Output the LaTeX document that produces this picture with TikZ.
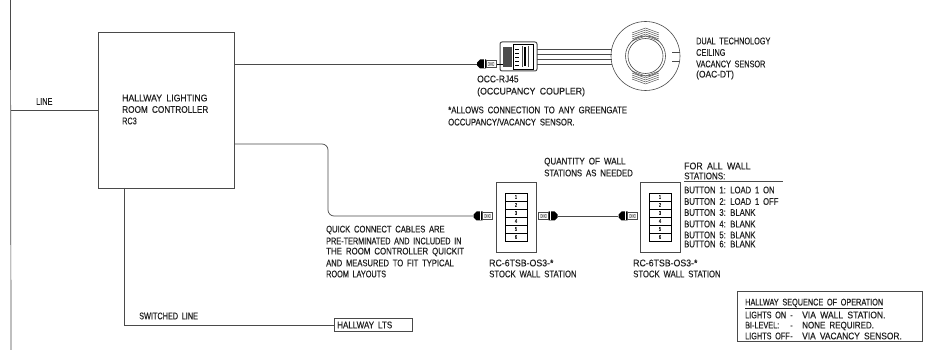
\documentclass[tikz,border=0pt]{standalone}
\usepackage{fontspec}
\setmainfont[FakeStretch=0.76,WordSpace=1.8,FakeBold=0.25]{Liberation Sans}
\definecolor{ink}{HTML}{4A4A4A}
\definecolor{txt}{HTML}{202020}
\newcommand{\sx}[2]{\scalebox{#1}[1]{#2}}
\tikzset{
  wire/.style={draw=ink,line width=0.7pt},
  thinwire/.style={draw=ink,line width=0.5pt},
  box/.style={draw=ink,line width=0.8pt,rectangle,inner sep=0pt},
  lab/.style={anchor=west,inner sep=0pt,text=txt,font=\fontsize{9.6}{10}\selectfont},
  cell/.style={draw=black,line width=0.8pt,rectangle,inner sep=0pt,minimum width=22pt,minimum height=8pt,text=txt,font=\fontsize{5.5}{5.5}\selectfont},
  plugbody/.style={rectangle,inner sep=0pt,minimum width=20pt,minimum height=10pt}
}
% \plugx{name}{x-centre}{y}{direction: 1 = dark end on the left, -1 = on the right}
\newcommand{\plugx}[4]{%
  \node[plugbody] (#1) at (#2,#3) {};
  \begin{scope}[shift={(#2,#3)},xscale=#4]
    \fill[black] (-10,-1.5) -- (-7,-4.5) -- (-1,-4.5) -- (-1,4.5) -- (-7,4.5) -- (-10,1.5) -- cycle;
    \fill[white] (-3.5,-4.5) rectangle (-2.4,4.5);
    \draw[ink,line width=0.6pt] (-1,-3.5) rectangle (9,3.5);
    \draw[ink,line width=0.4pt] (1,-1.5) rectangle (7,1.5) (1,-1.5) -- (7,1.5) (1,1.5) -- (7,-1.5);
  \end{scope}}
% \stationx{prefix}{left}: wall station plate with six numbered buttons
\newcommand{\stationx}[2]{%
  \node[box,minimum width=40pt,minimum height=70pt] (#1) at (#2+20,217) {};
  \foreach \n in {1,...,6} {
    \node[cell] (#1b\n) at (#2+20,{193+8*(\n-0.5)}) {\n};
  }}
\begin{document}
\begin{tikzpicture}[x=1pt,y=-1pt]
\useasboundingbox (0,0) rectangle (930,350);
\fill[white] (0,0) rectangle (930,350);

% main controller and bus
\coordinate (bustop) at (10.5,0);
\coordinate (busbot) at (11,350);
\draw[wire] (bustop) -- (busbot);
\node[box,minimum width=136pt,minimum height=156pt] (rc) at (166,110) {};
\draw[thinwire] (rc.west) -- (rc.west -| bustop);
\node[lab] (linelab) at (36,101.5) {LINE};
\node[lab] (rc1) at (122,98) {\sx{1.19}{HALLWAY LIGHTING}};
\node[lab] (rc2) at (122,109.5) {\sx{1.13}{ROOM CONTROLLER}};
\node[lab] (rc3) at (122,121) {RC3};

% hallway lights
\node[box,minimum width=78pt,minimum height=13pt] (lts) at (373,325) {};
\node[lab] (ltslab) at (337,325) {\sx{1.1}{HALLWAY LTS}};
\coordinate (swdrop) at (124,188);
\draw[wire] (swdrop) |- (lts.west);
\node[lab] (swlab) at (139,316) {SWITCHED LINE};

% occupancy coupler
\plugx{pa}{487}{64}{1}
\draw[wire] (rc.east |- pa.west) -- (pa.west);
\draw[ink,line width=1pt,rounded corners=2pt] (500,42) rectangle (537,71);
\node[rectangle,minimum width=37pt,minimum height=29pt,inner sep=0pt] (coupler) at (518.5,56.5) {};
\draw[black,line width=0.8pt] (513,44) rectangle (533,69);
\fill[black!70] (503,47) rectangle (512,67);
\foreach \yy in {49,53,57,61,65} \draw[black,line width=0.9pt] (515,\yy) -- (519,\yy);
\draw[black,line width=1.4pt] (525,47) -- (525,66);
\draw[ink,line width=0.5pt] (522,46) -- (522,67) (528,46) -- (528,67);
\draw[black,line width=0.9pt] (497,64) -- (503,64);

% sensor
\node[circle,draw=ink,line width=0.6pt,minimum size=69pt,inner sep=0pt] (sensor) at (645.5,56) {};
\draw[ink,line width=0.6pt] (sensor.center) circle (20) circle (17.5);
\foreach \yy in {49,54,59,64} {
  \draw[wire] (537,\yy) -- (612,\yy);
}
\foreach \dy in {0,2,4,6,8} {
  \draw[ink,line width=0.45pt] (632,33+\dy) -- (645.5,28+\dy) -- (659,33+\dy);
  \draw[ink,line width=0.45pt] (632,79-\dy) -- (645.5,84-\dy) -- (659,79-\dy);
}
\draw[ink,line width=0.5pt] (672,52) -- (680,52) (672,61) -- (680,61);
\node[lab] (s1) at (696,41) {DUAL TECHNOLOGY};
\node[lab] (s2) at (696,52.5) {CEILING};
\node[lab] (s3) at (696,64) {VACANCY SENSOR};
\node[lab] (s4) at (696,75) {\sx{1.15}{(OAC-DT)}};
\node[lab] (c1) at (477,79) {\sx{1.16}{OCC-RJ45}};
\node[lab] (c2) at (477,92) {\sx{1.2}{(OCCUPANCY COUPLER)}};
\node[lab] (c3) at (448,110) {\sx{1.07}{*ALLOWS CONNECTION TO ANY GREENGATE}};
\node[lab] (c4) at (448,122) {\sx{1.06}{OCCUPANCY/VACANCY SENSOR.}};

% wall stations
\stationx{st1}{496}
\stationx{st2}{640}
\plugx{pb}{483.5}{216}{1}
\plugx{pc}{547.5}{216}{-1}
\plugx{pd}{628.5}{216}{1}
\coordinate (bendtop) at (328,144);
\coordinate (bendbot) at (328,216);
\draw[wire,rounded corners=6pt] (rc.east |- bendtop) -- (bendtop) -- (bendbot) -- (pb.west);
\draw[wire] (pc.east) -- (pd.west);

\node[lab] (q1) at (326,230) {\sx{1.04}{QUICK CONNECT CABLES ARE}};
\node[lab] (q2) at (326,241) {PRE-TERMINATED AND INCLUDED IN};
\node[lab] (q3) at (326,252) {\sx{1.08}{THE ROOM CONTROLLER QUICKIT}};
\node[lab] (q4) at (326,263) {\sx{1.04}{AND MEASURED TO FIT TYPICAL}};
\node[lab] (q5) at (326,274) {ROOM LAYOUTS};
\node[lab] (m1) at (489,263) {\sx{1.2}{RC-6TSB-OS3-*}};
\node[lab] (m2) at (489,274) {\sx{1.06}{STOCK WALL STATION}};
\node[lab] (n1) at (633,263) {\sx{1.2}{RC-6TSB-OS3-*}};
\node[lab] (n2) at (633,274) {\sx{1.06}{STOCK WALL STATION}};
\node[lab] (w1) at (544,162) {\sx{1.1}{QUANTITY OF WALL}};
\node[lab] (w2) at (544,173) {\sx{1.07}{STATIONS AS NEEDED}};

\node[lab] (f1) at (684,166) {\sx{1.2}{FOR ALL WALL}};
\node[lab] (f2) at (684,176) {\sx{1.1}{STATIONS:}};
\coordinate (ulstart) at (684,181);
\coordinate (ulend) at (783,181);
\draw[thinwire] (ulstart) -- (ulend);
\node[lab] (b1) at (684,190) {\sx{1.05}{BUTTON 1: LOAD 1 ON}};
\node[lab] (b2) at (684,201.5) {\sx{1.05}{BUTTON 2: LOAD 1 OFF}};
\node[lab] (b3) at (684,212.5) {\sx{1.05}{BUTTON 3: BLANK}};
\node[lab] (b4) at (684,224) {\sx{1.05}{BUTTON 4: BLANK}};
\node[lab] (b5) at (684,235) {\sx{1.05}{BUTTON 5: BLANK}};
\node[lab] (b6) at (684,244) {\sx{1.05}{BUTTON 6: BLANK}};

% sequence of operation
\node[box,minimum width=185pt,minimum height=50pt] (seq) at (829.5,316) {};
\node[lab] (h0) at (745,304) {\underline{HALLWAY SEQUENCE OF OPERATION}};
\node[lab] (h1) at (745,315) {\makebox[45pt][l]{LIGHTS ON}\makebox[12pt][l]{-}\sx{1.17}{VIA WALL STATION.}};
\node[lab] (h2) at (745,326) {\makebox[45pt][l]{BI-LEVEL:}\makebox[12pt][l]{-}\sx{1.1}{NONE REQUIRED.}};
\node[lab] (h3) at (745,336) {\makebox[45pt][l]{LIGHTS OFF}\makebox[12pt][l]{-}\sx{1.15}{VIA VACANCY SENSOR.}};
\end{tikzpicture}
\end{document}
